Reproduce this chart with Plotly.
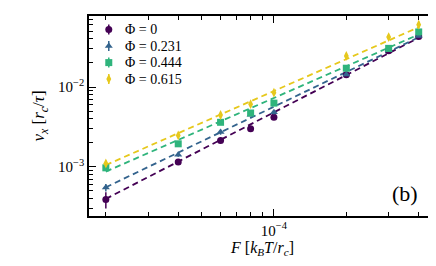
import plotly.graph_objects as go

F = [2e-5, 4e-5, 6e-5, 8e-5, 1e-4, 2e-4, 3e-4, 4e-4]
labels = ["Φ = 0", "Φ = 0.231", "Φ = 0.444", "Φ = 0.615"]
v_phi0 = [3.9e-4, 1.15e-3, 2.14e-3, 2.99e-3, 4.17e-3, 1.42e-2, 2.85e-2, 4.3e-2]
v_phi1 = [5.5e-4, 1.42e-3, 2.72e-3, 4.5e-3, 4.81e-3, 1.43e-2, 2.88e-2, 4.35e-2]
v_phi2 = [9.7e-4, 1.94e-3, 3.61e-3, 4.72e-3, 6.28e-3, 1.72e-2, 3.05e-2, 4.9e-2]
v_phi3 = [1.1e-3, 2.47e-3, 4.46e-3, 6.1e-3, 8.5e-3, 2.45e-2, 4.22e-2, 6.05e-2]
e_phi0 = [0.9e-4, 0.7e-4, 0.1e-3, 0.1e-3, 0.2e-3, 0.6e-3, 1.0e-3, 1.5e-3]
e_phi1 = [0.6e-4, 0.8e-4, 0.2e-3, 0.2e-3, 0.3e-3, 0.6e-3, 1.2e-3, 1.5e-3]
e_phi2 = [0.8e-4, 0.9e-4, 0.2e-3, 0.3e-3, 0.3e-3, 0.8e-3, 1.5e-3, 2.5e-3]
e_phi3 = [1.0e-4, 1.5e-4, 0.3e-3, 0.4e-3, 0.5e-3, 2.0e-3, 3.0e-3, 6.0e-3]
fit_F = [2e-5, 4e-4]
fit_phi0 = [3.96e-4, 4.14e-2]
fit_phi1 = [5.53e-4, 4.2e-2]
fit_phi2 = [8.7e-4, 4.55e-2]
fit_phi3 = [1.05e-3, 5.62e-2]

colors = ["#440154", "#33638d", "#2fb47c", "#e6c81c"]
symbols = ["circle", "triangle-up", "square", "diamond-tall"]
values = [v_phi0, v_phi1, v_phi2, v_phi3]
errors = [e_phi0, e_phi1, e_phi2, e_phi3]
fits = [fit_phi0, fit_phi1, fit_phi2, fit_phi3]

x_major = [1e-4]
x_major_text = ["10<sup>−4</sup>"]
x_minor = [2e-5, 3e-5, 4e-5, 5e-5, 6e-5, 7e-5, 8e-5, 9e-5, 2e-4, 3e-4, 4e-4]
y_major = [1e-3, 1e-2]
y_major_text = ["10<sup>−3</sup>", "10<sup>−2</sup>"]
y_minor = [3e-4, 4e-4, 5e-4, 6e-4, 7e-4, 8e-4, 9e-4,
           2e-3, 3e-3, 4e-3, 5e-3, 6e-3, 7e-3, 8e-3, 9e-3,
           2e-2, 3e-2, 4e-2, 5e-2, 6e-2, 7e-2]

# legend layout (fractions of the plot area)
leg_x_marker = 0.057
leg_x_text = 0.098
leg_y = [0.932, 0.850, 0.767, 0.685]

FONT = "Liberation Serif"
fig = go.Figure()
for c, f in zip(colors, fits):
    fig.add_trace(go.Scatter(
        x=fit_F, y=f, mode="lines", showlegend=False,
        line=dict(color=c, width=1.8, dash="6px,4px"), hoverinfo="skip"))
for lab, c, s, v, e in zip(labels, colors, symbols, values, errors):
    fig.add_trace(go.Scatter(
        x=F, y=v, mode="markers", name=lab, showlegend=False,
        marker=dict(color=c, symbol=s, size=7, line=dict(width=0)),
        error_y=dict(type="data", array=e, visible=True, color=c, thickness=1.5, width=0)))

# custom legend on a hidden linear overlay axis
annotations = []
for lab, c, s, ly in zip(labels, colors, symbols, leg_y):
    fig.add_trace(go.Scatter(
        x=[leg_x_marker], y=[ly], mode="markers", showlegend=False, hoverinfo="skip",
        xaxis="x2", yaxis="y2",
        marker=dict(color=c, symbol=s, size=7, line=dict(width=0)),
        error_y=dict(type="constant", value=0.025, visible=True, color=c, thickness=1.5, width=0)))
    annotations.append(dict(text=lab, x=leg_x_text, y=ly, xref="x2", yref="y2",
                            xanchor="left", yanchor="middle", showarrow=False,
                            font=dict(family=FONT, size=14, color="black")))

annotations.append(dict(text="(b)", x=0.955, y=0.04, xref="paper", yref="paper",
                        xanchor="right", yanchor="bottom", showarrow=False,
                        font=dict(family=FONT, size=22, color="black")))

axis_common = dict(type="log", showline=True, linecolor="black", linewidth=1.5,
                   ticks="inside", tickcolor="black", tickwidth=1.2, ticklen=7,
                   mirror="allticks", showgrid=False, zeroline=False,
                   tickfont=dict(family=FONT, size=15, color="black"))

fig.update_layout(
    width=436, height=266,
    margin=dict(l=81, r=6, t=6, b=58),
    paper_bgcolor="white", plot_bgcolor="white",
    font=dict(family=FONT, color="black"),
    showlegend=False,
    xaxis=dict(range=[-4.769, -3.326], tickmode="array", tickvals=x_major, ticktext=x_major_text,
               minor=dict(tickmode="array", tickvals=x_minor, ticks="inside", ticklen=4,
                          tickcolor="black", tickwidth=1),
               title=dict(text="<i>F</i> [<i>k</i><sub><i>B</i></sub><i>T</i>/<i>r</i><sub><i>c</i></sub>]",
                          font=dict(family=FONT, size=16), standoff=4),
               **axis_common),
    yaxis=dict(range=[-3.617, -1.11], tickmode="array", tickvals=y_major, ticktext=y_major_text,
               minor=dict(tickmode="array", tickvals=y_minor, ticks="inside", ticklen=4,
                          tickcolor="black", tickwidth=1),
               title=dict(text="<i>v</i><sub><i>x</i></sub> [<i>r</i><sub><i>c</i></sub>/<i>τ</i>]",
                          font=dict(family=FONT, size=17), standoff=9),
               **axis_common),
    xaxis2=dict(overlaying="x", range=[0, 1], visible=False, fixedrange=True),
    yaxis2=dict(overlaying="y", range=[0, 1], visible=False, fixedrange=True),
    annotations=annotations,
)

fig.write_html("out.html")
